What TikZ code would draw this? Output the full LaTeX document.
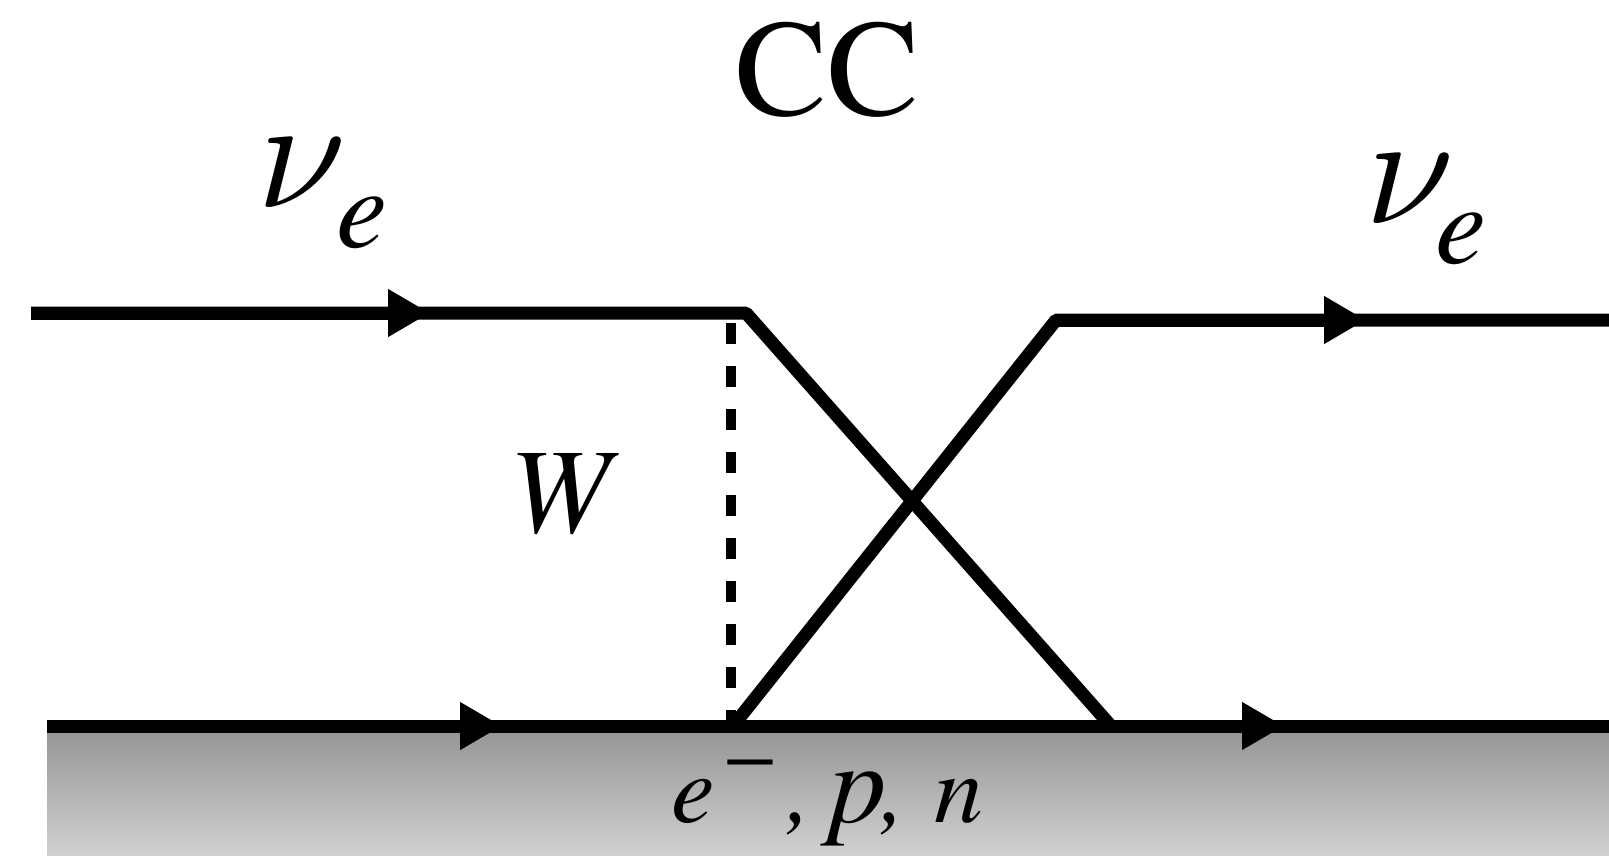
\documentclass[tikz,border=0pt]{standalone}
\usepackage{fontspec}
\usepackage{graphicx}
\setmainfont{texgyretermes}[Extension=.otf, UprightFont=*-regular, ItalicFont=*-italic, BoldFont=*-bold, BoldItalicFont=*-bolditalic]
\usetikzlibrary{arrows.meta}

\newcommand{\nue}[1]{\scalebox{16}{$\nu$}\hspace{#1}\raisebox{-40pt}{\itshape\fontsize{115}{115}\selectfont e}}

\begin{document}
\begin{tikzpicture}[
  x=1pt, y=-1pt,
  line/.style={line width=13pt, line join=bevel},
  fermion/.style={line width=13pt, -{Triangle[length=42pt, width=45pt]}},
  boson/.style={line width=10pt, dash pattern=on 21pt off 22pt},
  lbl/.style={inner sep=0pt, anchor=base west}
]
\useasboundingbox (0,0) rectangle (1609,856);

\shade[top color=black!41, bottom color=black!18] (47,733) rectangle (1609,856);

\coordinate (inT) at (31,313);
\coordinate (tipA) at (430,313);
\coordinate (vTL) at (746,313);
\coordinate (vBR) at (1111,726);
\coordinate (vTR) at (1056,320);
\coordinate (tipB) at (1366,320);
\coordinate (outT) at (1609,320);
\coordinate (vBL) at (733,726);
\coordinate (inB) at (47,726);
\coordinate (tipC) at (502,726);
\coordinate (tipD) at (1284,726);
\coordinate (outB) at (1609,726);
\coordinate (wT) at (731,323);
\coordinate (wB) at (731,720);

\draw[boson] (wT) -- (wB);

\draw[line] (inT) -- (vTL) -- (vBR);
\draw[line] (vBL) -- (vTR) -- (outT);
\draw[line] (inB) -- (outB);

\draw[fermion] (inT) -- (tipA);
\draw[fermion] (vTR) -- (tipB);
\draw[fermion] (inB) -- (tipC);
\draw[fermion] (inB) -- (tipD);

\node[lbl, font=\fontsize{138}{138}\selectfont] (cc) at (735,116) {CC};
\node[lbl] (nuL) at (257,207) {\nue{-10pt}};
\node[lbl] (nuR) at (1365,223) {\nue{-19pt}};
\node[lbl, font=\itshape\fontsize{121}{121}\selectfont] (w) at (509,532) {W};
\node[lbl, font=\itshape\fontsize{98}{98}\selectfont] (tgt) at (671,822)
  {e\hspace{10pt}\raisebox{41pt}{\fontsize{76}{76}\selectfont −}\hspace{11pt},\hspace{18pt}{\fontsize{115}{115}\selectfont p}\hspace{-6pt},\hspace{29pt}n};

\end{tikzpicture}
\end{document}
